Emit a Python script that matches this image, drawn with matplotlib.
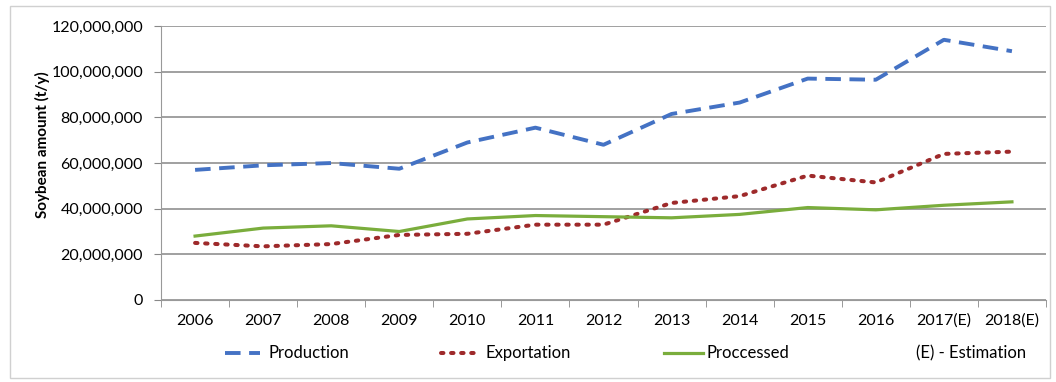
import matplotlib
matplotlib.use("Agg")
import matplotlib.pyplot as plt
from matplotlib.patches import Rectangle
from matplotlib.ticker import FuncFormatter, MultipleLocator

years = ["2006", "2007", "2008", "2009", "2010", "2011", "2012", "2013",
         "2014", "2015", "2016", "2017(E)", "2018(E)"]
production = [57.0, 59.0, 60.0, 57.5, 69.0, 75.5, 68.0, 81.5, 86.5, 97.0, 96.5, 114.0, 109.0]
exportation = [25.0, 23.5, 24.5, 28.5, 29.0, 33.0, 33.0, 42.5, 45.5, 54.5, 51.5, 64.0, 65.0]
processed = [28.0, 31.5, 32.5, 30.0, 35.5, 37.0, 36.5, 36.0, 37.5, 40.5, 39.5, 41.5, 43.0]

plt.rcParams["font.family"] = ["Lato", "DejaVu Sans"]

fig = plt.figure(figsize=(10.56, 3.82), dpi=100)
fig.patches.append(Rectangle((0.009, 0.01), 0.985, 0.975, transform=fig.transFigure,
                             fill=False, edgecolor="#d0d0d0", lw=1.0))
ax = fig.add_axes([0.1525, 0.2147, 0.838, 0.717])

x = list(range(len(years)))
scale = 1e6
p1, = ax.plot(x, [v * scale for v in production], color="#4472c4", lw=2.8,
              dashes=(4, 2.2), label="Production")
p2, = ax.plot(x, [v * scale for v in exportation], color="#9e2a2b", lw=2.9,
              dashes=(0.6, 1.9), dash_capstyle="round", label="Exportation")
p3, = ax.plot(x, [v * scale for v in processed], color="#7aad3c", lw=2.3,
              label="Proccessed")

ax.set_xlim(-0.5, len(years) - 0.5)
ax.set_ylim(0, 120e6)
ax.yaxis.set_major_locator(MultipleLocator(20e6))
ax.yaxis.set_major_formatter(FuncFormatter(lambda v, _: f"{v:,.0f}"))
ax.set_xticks(x)
ax.set_xticklabels(years)
ax.set_xticks([i - 0.5 for i in range(len(years) + 1)], minor=True)
ax.tick_params(axis="x", which="major", length=0, pad=10, labelsize=11.5)
ax.tick_params(axis="x", which="minor", length=5, color="#888888")
ax.tick_params(axis="y", length=5, color="#888888", labelsize=11.5, pad=8)
ax.grid(axis="y", color="#999999", lw=1.3)
ax.set_axisbelow(True)
for s in ["top", "right"]:
    ax.spines[s].set_visible(False)
ax.spines["left"].set_color("#999999")
ax.spines["bottom"].set_color("#999999")
ax.set_ylabel("Soybean amount (t/y)", fontsize=11, fontweight="bold")
ax.yaxis.set_label_coords(-0.126, 0.566)

# legend entries placed individually to match the spread in the reference
entries = [(p1, "Production", 0.213, 2.1, 0.5),
           (p2, "Exportation", 0.418, 2.3, 0.36),
           (p3, "Proccessed", 0.629, 2.3, 0.25)]
for handle, text, xpos, hl, tp in entries:
    fig.legend([handle], [text], loc="center left", bbox_to_anchor=(xpos, 0.075),
               frameon=False, fontsize=12, handlelength=hl, handletextpad=tp,
               borderpad=0, borderaxespad=0)
fig.text(0.867, 0.075, "(E) - Estimation", fontsize=12, va="center", ha="left")

fig.savefig("out.png", dpi=100)
